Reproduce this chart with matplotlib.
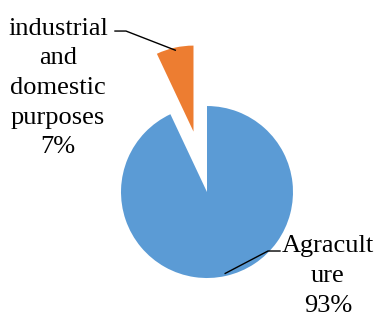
import numpy as np
import matplotlib.pyplot as plt

labels = ["Agracult\nure\n93%", "industrial\nand\ndomestic\npurposes\n7%"]
values = [93, 7]
colors = ["#5B9BD5", "#ED7D31"]
explode = [0, 0.72]

plt.rcParams['font.family'] = ['Liberation Serif', 'DejaVu Serif']

fig = plt.figure(figsize=(3.79, 3.18), dpi=100)
ax = fig.add_axes([0, 0, 1, 1])

wedges, _ = ax.pie(values, colors=colors, explode=explode, startangle=90,
                   counterclock=False, radius=1,
                   wedgeprops={'linewidth': 0})

ax.set_xlim(-2.407, 2.0)
ax.set_ylim(-1.465, 2.233)
ax.set_aspect('equal')
ax.axis('off')

# label text centres and leader-line elbows
text_pos = [(1.407, -0.975), (-1.733, 1.21)]
elbows = [((0.849, -0.686), (0.709, -0.686)), ((-1.07, 1.872), (-0.942, 1.872))]

for w, lab, tp, el in zip(wedges, labels, text_pos, elbows):
    mid = np.deg2rad((w.theta1 + w.theta2) / 2)
    cx, cy = w.center
    anchor = (cx + 0.97 * w.r * np.cos(mid), cy + 0.97 * w.r * np.sin(mid))
    ax.text(tp[0], tp[1], lab, ha='center', va='center', fontsize=19,
            linespacing=1.45, multialignment='center')
    ax.plot([el[0][0], el[1][0], anchor[0]], [el[0][1], el[1][1], anchor[1]],
            color='black', lw=1)

fig.savefig('out.png', dpi=100)
